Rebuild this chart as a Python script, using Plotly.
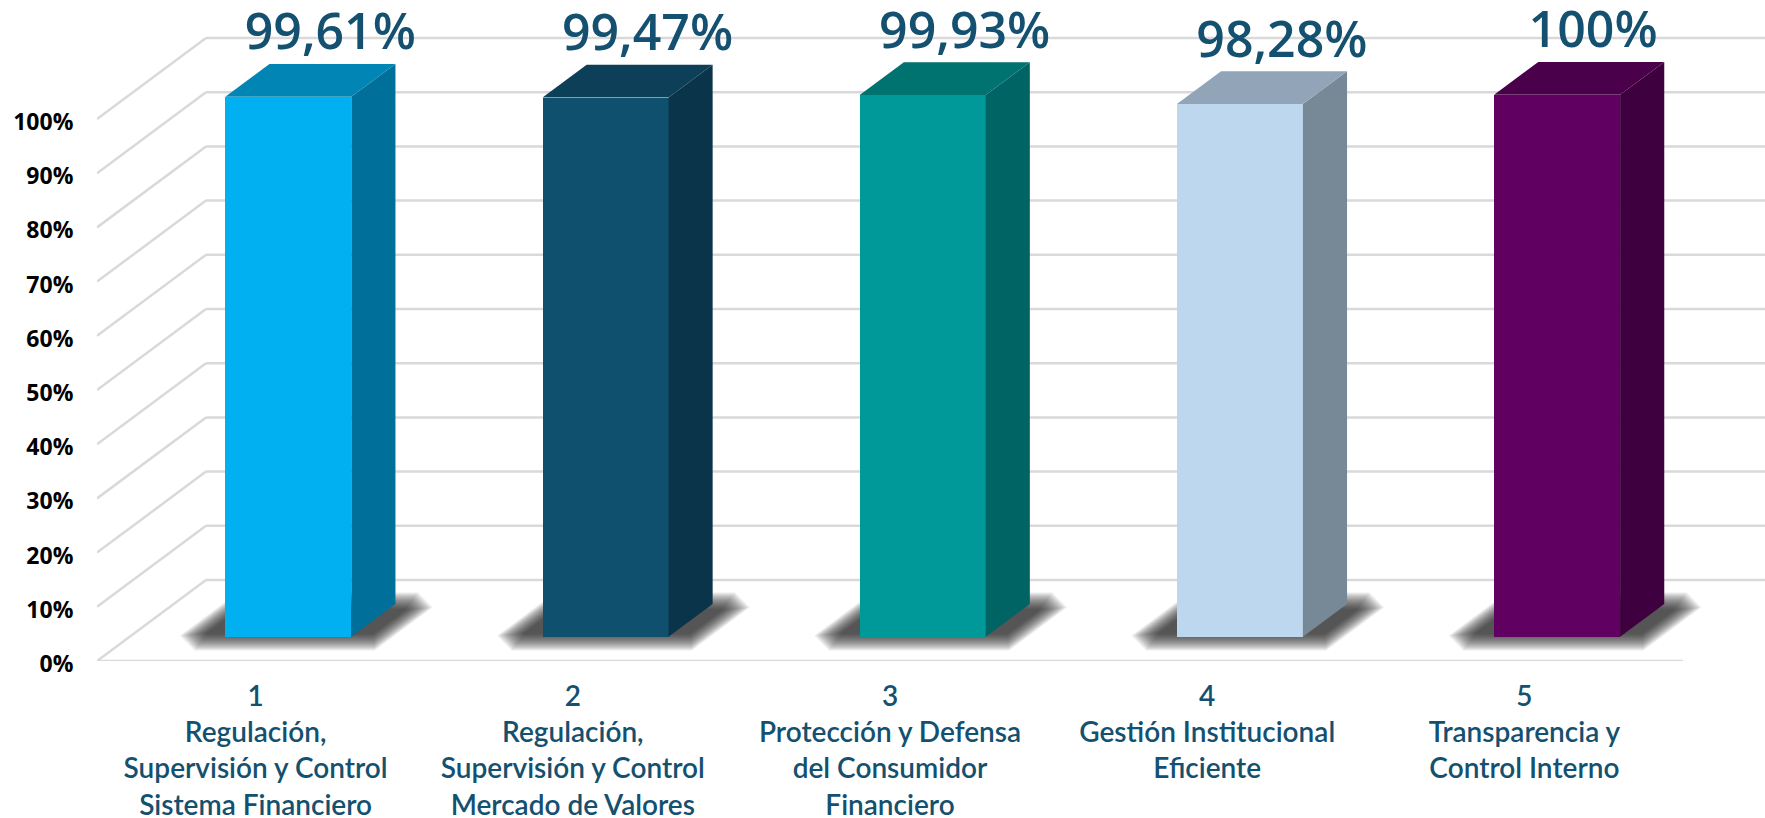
import plotly.graph_objects as go

categories = [1, 2, 3, 4, 5]
category_names = [
    "1<br>Regulación,<br>Supervisión y Control<br>Sistema Financiero",
    "2<br>Regulación,<br>Supervisión y Control<br>Mercado de Valores",
    "3<br>Protección y Defensa<br>del Consumidor<br>Financiero",
    "4<br>Gestión Institucional<br>Eficiente",
    "5<br>Transparencia y<br>Control Interno",
]
values = [99.61, 99.47, 99.93, 98.28, 100]
value_labels = ["99,61%", "99,47%", "99,93%", "98,28%", "100%"]
y_ticks = [0, 10, 20, 30, 40, 50, 60, 70, 80, 90, 100]
y_labels = ["0%", "10%", "20%", "30%", "40%", "50%", "60%", "70%", "80%", "90%", "100%"]
front_colors = ["#00B0F0", "#10506F", "#009999", "#BDD7EE", "#600060"]
side_colors = ["#006F9A", "#0A3449", "#006464", "#778997", "#3E003E"]
top_colors = ["#0085B5", "#0D3F58", "#00726F", "#92A5B8", "#4A004A"]

# scale and oblique projection
PX_X, PX_Y = 317.2, 5.42
WALL_DX, WALL_DY = 109 / PX_X, 81 / PX_Y
BAR_D0, BAR_D1 = 0.30, 0.705
BAR_W = 126 / PX_X
LABEL_SHIFT_PX = [42, 42, 42, 42, 36]
GRID = "#D9D9D9"
INK = "#14506F"


def proj(x, y, d):
    return x + d * WALL_DX, y + d * WALL_DY


def path(pts):
    return "M" + " L".join(f"{x:.5f},{y:.5f}" for x, y in pts) + " Z"


shapes = []
x_left, x_front_end = 0.5, 5.5
x_back_end = 0.5 + (1765 - 97) / PX_X + 0.2
for t in y_ticks:
    bx, by = proj(x_left, t, 1)
    shapes.append(dict(type="line", x0=x_left, y0=t, x1=bx, y1=by, layer="below",
                       line=dict(color=GRID, width=2.5)))
    shapes.append(dict(type="line", x0=bx, y0=by, x1=x_back_end, y1=by, layer="below",
                       line=dict(color=GRID, width=2.5)))
shapes.append(dict(type="line", x0=x_left, y0=0, x1=x_front_end, y1=0, layer="below",
                   line=dict(color=GRID, width=2.5)))

# soft floor shadows built from stacked translucent layers with softened tips
for c in categories:
    for e in range(13, -12, -1):
        eu = e / PX_X
        ed = e * 0.7 / 81
        u0, u1 = -97 / PX_X - eu, 92 / PX_X + eu
        d0, d1 = 0.24 - ed, 0.735 + ed
        cu = (e + 12) * 1.4 / PX_X
        cd = (e + 12) * 0.6 / 81
        pts = [
            proj(c + u0 + cu, 0, d0), proj(c + u1, 0, d0),
            proj(c + u1, 0, d1 - cd), proj(c + u1 - cu, 0, d1),
            proj(c + u0, 0, d1), proj(c + u0, 0, d0 + cd),
        ]
        shapes.append(dict(type="path", path=path(pts), layer="below",
                           fillcolor="rgba(20,20,20,0.047)", line=dict(width=0)))

fig = go.Figure()

base = BAR_D0 * WALL_DY
shift = BAR_D0 * WALL_DX
fig.add_trace(go.Bar(
    x=[c + shift for c in categories], y=values, base=[base] * len(values),
    width=BAR_W, marker=dict(color=front_colors, line=dict(width=0)),
    showlegend=False, hoverinfo="skip",
))

for c, v, sc, tc in zip(categories, values, side_colors, top_colors):
    xl, xr = c - BAR_W / 2, c + BAR_W / 2
    side = [proj(xr, 0, BAR_D0), proj(xr, 0, BAR_D1), proj(xr, v, BAR_D1), proj(xr, v, BAR_D0)]
    top = [proj(xl, v, BAR_D0), proj(xr, v, BAR_D0), proj(xr, v, BAR_D1), proj(xl, v, BAR_D1)]
    for poly, col in ((side, sc), (top, tc)):
        fig.add_trace(go.Scatter(
            x=[p[0] for p in poly] + [poly[0][0]],
            y=[p[1] for p in poly] + [poly[0][1]],
            mode="lines", fill="toself", fillcolor=col, line=dict(width=0, color=col),
            showlegend=False, hoverinfo="skip",
        ))

fig.add_trace(go.Scatter(
    x=[c + shift + s / PX_X for c, s in zip(categories, LABEL_SHIFT_PX)],
    y=[v + base + 60 / PX_Y for v in values],
    mode="text", text=value_labels, textposition="middle center",
    textfont=dict(family="Open Sans", size=50, color=INK, weight=600),
    cliponaxis=False, showlegend=False, hoverinfo="skip",
))

fig.update_layout(
    width=1765, height=818, margin=dict(l=97, r=0, t=0, b=157, autoexpand=False),
    paper_bgcolor="white", plot_bgcolor="white", shapes=shapes, bargap=0,
    xaxis=dict(range=[0.5, 0.5 + (1765 - 97) / PX_X], tickmode="array", tickvals=categories,
               ticktext=category_names, showgrid=False, zeroline=False, showline=False,
               automargin=False, ticks="outside", ticklen=10, tickcolor="rgba(0,0,0,0)", tickangle=0,
               tickfont=dict(family="Lato", size=28, color=INK, weight=600)),
    yaxis=dict(range=[0, 661 / PX_Y], tickmode="array", tickvals=y_ticks, ticktext=y_labels,
               showgrid=False, zeroline=False, showline=False, ticklabelshift=3,
               automargin=False, ticks="outside", ticklen=18, tickcolor="rgba(0,0,0,0)",
               tickfont=dict(family="Open Sans", size=23, color="#000000", weight="bold")),
)

fig.write_html("out.html", config={"displayModeBar": False},
               post_script="document.body.style.margin='0';document.body.style.overflow='hidden';")
